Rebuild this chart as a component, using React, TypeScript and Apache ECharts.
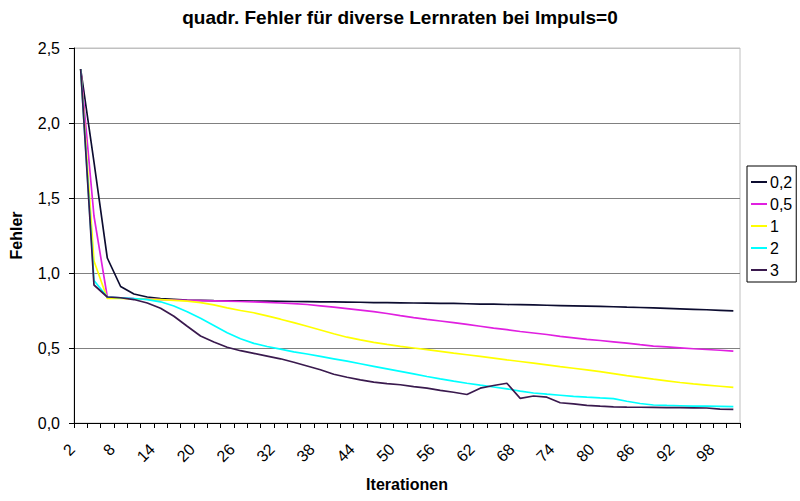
import React, { useEffect, useRef } from "react";
import * as echarts from "echarts";

const titleText = "quadr. Fehler für diverse Lernraten bei Impuls=0";
const xName = "Iterationen";
const yName = "Fehler";

const iterations = [
  "2", "4", "6", "8", "10", "12", "14", "16", "18", "20",
  "22", "24", "26", "28", "30", "32", "34", "36", "38", "40",
  "42", "44", "46", "48", "50", "52", "54", "56", "58", "60",
  "62", "64", "66", "68", "70", "72", "74", "76", "78", "80",
  "82", "84", "86", "88", "90", "92", "94", "96", "98", "100",
];

const seriesNames = ["0,2", "0,5", "1", "2", "3"];

const lr02 = [
  2.36, 1.74, 1.1, 0.91, 0.86, 0.84, 0.83, 0.825, 0.82, 0.818,
  0.816, 0.815, 0.814, 0.813, 0.812, 0.811, 0.81, 0.809, 0.808, 0.807,
  0.806, 0.805, 0.803, 0.802, 0.801, 0.8, 0.799, 0.798, 0.797, 0.795,
  0.793, 0.792, 0.79, 0.789, 0.787, 0.785, 0.783, 0.781, 0.779, 0.777,
  0.775, 0.772, 0.77, 0.767, 0.764, 0.761, 0.758, 0.755, 0.751, 0.747,
];

const lr05 = [
  2.36, 1.38, 0.84, 0.835, 0.83, 0.826, 0.822, 0.82, 0.818, 0.816,
  0.814, 0.812, 0.81, 0.807, 0.804, 0.8, 0.796, 0.79, 0.781, 0.772,
  0.762, 0.752, 0.742, 0.73, 0.716, 0.703, 0.691, 0.68, 0.669, 0.657,
  0.645, 0.633, 0.622, 0.61, 0.6, 0.59, 0.578, 0.568, 0.558, 0.55,
  0.541, 0.532, 0.522, 0.513, 0.507, 0.501, 0.495, 0.49, 0.485, 0.479,
];

const lr1 = [
  2.36, 1.08, 0.83, 0.83, 0.828, 0.825, 0.822, 0.818, 0.812, 0.803,
  0.787, 0.768, 0.75, 0.735, 0.714, 0.692, 0.669, 0.645, 0.62, 0.595,
  0.572, 0.554, 0.538, 0.524, 0.511, 0.5, 0.489, 0.478, 0.466, 0.455,
  0.444, 0.433, 0.421, 0.41, 0.399, 0.388, 0.376, 0.365, 0.354, 0.342,
  0.329, 0.316, 0.304, 0.292, 0.281, 0.27, 0.261, 0.253, 0.245, 0.237,
];

const lr2 = [
  2.36, 0.95, 0.84, 0.835, 0.83, 0.822, 0.808, 0.78, 0.742, 0.698,
  0.65, 0.602, 0.562, 0.531, 0.51, 0.492, 0.474, 0.46, 0.444, 0.428,
  0.412, 0.395, 0.378, 0.361, 0.344, 0.327, 0.31, 0.294, 0.279, 0.265,
  0.252, 0.24, 0.228, 0.212, 0.2, 0.192, 0.185, 0.178, 0.172, 0.167,
  0.163, 0.145, 0.13, 0.12, 0.117, 0.115, 0.113, 0.112, 0.111, 0.109,
];

const lr3 = [
  2.36, 0.92, 0.84, 0.835, 0.823, 0.8, 0.765, 0.712, 0.645, 0.58,
  0.54, 0.505, 0.482, 0.464, 0.446, 0.428, 0.405, 0.38, 0.355, 0.325,
  0.305, 0.287, 0.272, 0.262, 0.255, 0.243, 0.232, 0.218, 0.205, 0.19,
  0.232, 0.25, 0.265, 0.164, 0.18, 0.172, 0.135, 0.128, 0.118, 0.112,
  0.108, 0.106, 0.105, 0.104, 0.103, 0.102, 0.101, 0.1, 0.093, 0.091,
];

const seriesValues = [lr02, lr05, lr1, lr2, lr3];
const seriesColors = ["#0c0c30", "#e020e0", "#ffff00", "#00ffff", "#3a1a4e"];

const FONT = "'Liberation Sans', Arial, sans-serif";

export default function App() {
  const ref = useRef<HTMLDivElement>(null);

  useEffect(() => {
    if (!ref.current) return;
    const chart = echarts.init(ref.current, undefined, { renderer: "svg" });
    chart.setOption({
      animation: false,
      backgroundColor: "#ffffff",
      textStyle: { fontFamily: FONT },
      title: {
        text: titleText,
        left: "center",
        top: 3,
        textStyle: { fontFamily: FONT, fontSize: 19, fontWeight: "bold", color: "#000" },
      },
      legend: {
        orient: "vertical",
        left: 747,
        top: 166,
        data: seriesNames,
        icon: "rect",
        itemWidth: 16,
        itemHeight: 2,
        itemGap: 6,
        padding: [8, 4, 4, 4],
        borderColor: "#000",
        borderWidth: 1,
        backgroundColor: "#fff",
        textStyle: { fontFamily: FONT, fontSize: 16, color: "#000", padding: [0, 0, 0, -2] },
      },
      grid: {
        left: 69,
        right: 60,
        top: 48,
        bottom: 78,
        show: true,
        borderColor: "#c0c0c0",
        borderWidth: 1,
      },
      xAxis: {
        type: "category",
        data: iterations,
        boundaryGap: true,
        name: xName,
        nameLocation: "middle",
        nameGap: 53,
        nameTextStyle: { fontFamily: FONT, fontSize: 16, fontWeight: "bold", color: "#000" },
        axisLine: { show: true, lineStyle: { color: "#000", width: 1 } },
        axisTick: { show: true, interval: 0, length: 5, lineStyle: { color: "#000" } },
        axisLabel: {
          interval: 2,
          rotate: 45,
          margin: 15,
          padding: [0, 12, 0, 0],
          fontFamily: FONT,
          fontSize: 16,
          color: "#000",
        },
        splitLine: { show: false },
      },
      yAxis: {
        type: "value",
        min: 0,
        max: 2.5,
        interval: 0.5,
        name: yName,
        nameLocation: "middle",
        nameGap: 50,
        nameTextStyle: { fontFamily: FONT, fontSize: 16, fontWeight: "bold", color: "#000" },
        axisLine: { show: true, lineStyle: { color: "#000", width: 1 } },
        axisTick: { show: true, length: 5, lineStyle: { color: "#000" } },
        axisLabel: {
          margin: 14,
          fontFamily: FONT,
          fontSize: 16,
          color: "#000",
          formatter: (v: number) => v.toFixed(1).replace(".", ","),
        },
        splitLine: {
          show: true,
          lineStyle: {
            color: ["#808080", "#808080", "#808080", "#808080", "#808080", "#c0c0c0"],
            width: 1,
          },
        },
      },
      series: seriesNames.map((name, i) => ({
        name,
        type: "line",
        data: seriesValues[i],
        symbol: "none",
        smooth: false,
        lineStyle: { color: seriesColors[i], width: 1.7 },
        itemStyle: { color: seriesColors[i] },
      })),
    });
    return () => chart.dispose();
  }, []);

  return (
    <div
      ref={ref}
      style={{ position: "fixed", left: 0, top: 0, width: 800, height: 501, background: "#fff" }}
    />
  );
}
